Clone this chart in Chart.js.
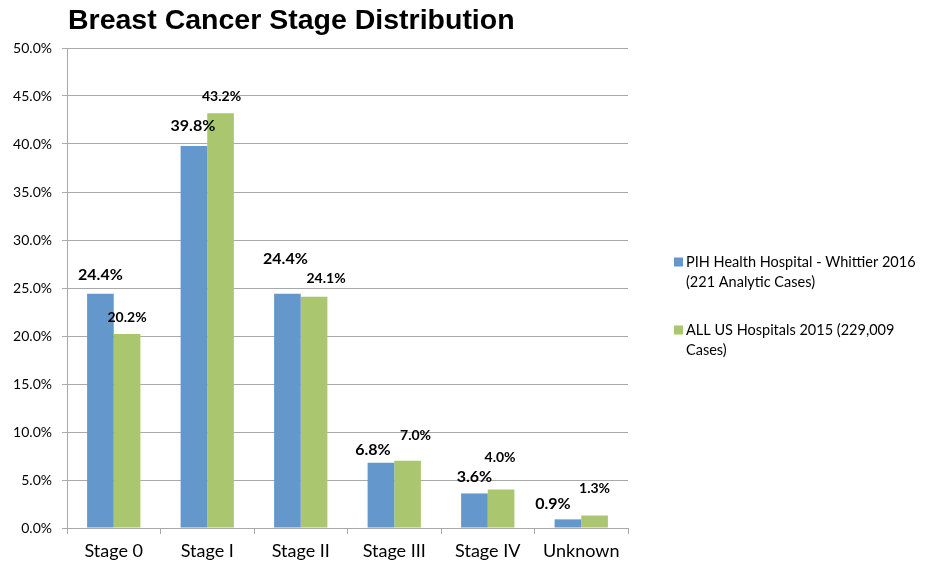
<!DOCTYPE html>
<html>
<head>
<meta charset="utf-8">
<title>Breast Cancer Stage Distribution</title>
<script src="https://cdn.jsdelivr.net/npm/chart.js@4/dist/chart.umd.min.js"></script>
<style>
  html, body { margin: 0; padding: 0; background: #ffffff; }
  #wrap { width: 925px; height: 564px; position: relative; }
</style>
</head>
<body>
<div id="wrap"><canvas id="chart" width="925" height="564"></canvas></div>
<script>
// Stage categories along the x axis
const stages = ['Stage 0', 'Stage I', 'Stage II', 'Stage III', 'Stage IV', 'Unknown'];

// Percent of cases in each stage
const pihWhittier2016 = [24.4, 39.8, 24.4, 6.8, 3.6, 0.9];
const allUsHospitals2015 = [20.2, 43.2, 24.1, 7.0, 4.0, 1.3];

// Legend text, split into its display lines
const pihLegendLines = ['PIH Health Hospital - Whittier 2016', '(221 Analytic Cases)'];
const usLegendLines = ['ALL US Hospitals 2015 (229,009', 'Cases)'];

// Y axis tick values (percent)
const yTicks = [0, 5, 10, 15, 20, 25, 30, 35, 40, 45, 50];

const chartTitle = 'Breast Cancer Stage Distribution';

const BLUE = '#6498cc';
const GREEN = '#aac66e';
const GRID = '#a9a9a9';

// Hand-placed value labels: pixel nudges from the top centre of each bar
const labelNudges = [
  [[0, -19], [-1, -20], [-2, -35], [-8, -13], [0, -17], [-15, -16]],
  [[0, -17], [1, -17], [12, -18], [8, -25], [-1, -32], [0, -27]]
];
const labelFonts = ['bold 16px Lato', 'bold 14px Lato'];

const valueLabels = {
  id: 'valueLabels',
  afterDatasetsDraw(chart) {
    const ctx = chart.ctx;
    ctx.save();
    ctx.fillStyle = '#000000';
    ctx.textAlign = 'center';
    ctx.textBaseline = 'middle';
    chart.data.datasets.forEach((ds, di) => {
      const meta = chart.getDatasetMeta(di);
      ctx.font = labelFonts[di];
      meta.data.forEach((bar, i) => {
        const n = labelNudges[di][i];
        ctx.fillText(ds.data[i].toFixed(1) + '%', bar.x + n[0], bar.y + n[1]);
      });
    });
    ctx.restore();
  }
};

const titleAndLegend = {
  id: 'titleAndLegend',
  afterDraw(chart) {
    const ctx = chart.ctx;
    const area = chart.chartArea;
    ctx.save();
    // title
    ctx.fillStyle = '#000000';
    ctx.font = 'bold 28.5px "Liberation Sans", Arial, sans-serif';
    ctx.textAlign = 'left';
    ctx.textBaseline = 'alphabetic';
    ctx.fillText(chartTitle, area.left + 1, 29);
    // legend at the right
    const items = [
      { lines: pihLegendLines, color: chart.data.datasets[0].backgroundColor, y: 262 },
      { lines: usLegendLines, color: chart.data.datasets[1].backgroundColor, y: 330 }
    ];
    ctx.font = '14.5px Lato';
    ctx.textBaseline = 'middle';
    items.forEach(it => {
      ctx.fillStyle = it.color;
      ctx.fillRect(674, it.y - 4.5, 9, 9);
      ctx.fillStyle = '#000000';
      it.lines.forEach((ln, k) => ctx.fillText(ln, 686, it.y + k * 20.5));
    });
    ctx.restore();
  }
};

new Chart(document.getElementById('chart'), {
  type: 'bar',
  data: {
    labels: stages,
    datasets: [
      { label: pihLegendLines.join(' '), data: pihWhittier2016, backgroundColor: BLUE,
        categoryPercentage: 0.57, barPercentage: 1.0 },
      { label: usLegendLines.join(' '), data: allUsHospitals2015, backgroundColor: GREEN,
        categoryPercentage: 0.57, barPercentage: 1.0 }
    ]
  },
  options: {
    responsive: false,
    animation: false,
    layout: { padding: { top: 48, right: 297, left: 0, bottom: 0 } },
    plugins: {
      legend: { display: false },
      title: { display: false },
      tooltip: { enabled: false }
    },
    scales: {
      x: {
        offset: true,
        grid: { offset: true, drawOnChartArea: false, color: GRID, tickLength: 6, lineWidth: 1 },
        border: { color: GRID, width: 1 },
        ticks: { color: '#000000', font: { family: 'Lato', size: 18 }, padding: 6, maxRotation: 0 },
        afterFit(scale) { scale.height = 36; }
      },
      y: {
        min: 0,
        max: 50,
        afterBuildTicks(scale) { scale.ticks = yTicks.map(v => ({ value: v })); },
        grid: { color: GRID, tickLength: 5, lineWidth: 1 },
        border: { color: GRID, width: 1 },
        ticks: {
          color: '#000000',
          font: { family: 'Lato', size: 14 },
          padding: 10,
          callback: v => Number(v).toFixed(1) + '%'
        },
        afterFit(scale) { scale.width = 67; }
      }
    }
  },
  plugins: [valueLabels, titleAndLegend]
});
</script>
</body>
</html>
